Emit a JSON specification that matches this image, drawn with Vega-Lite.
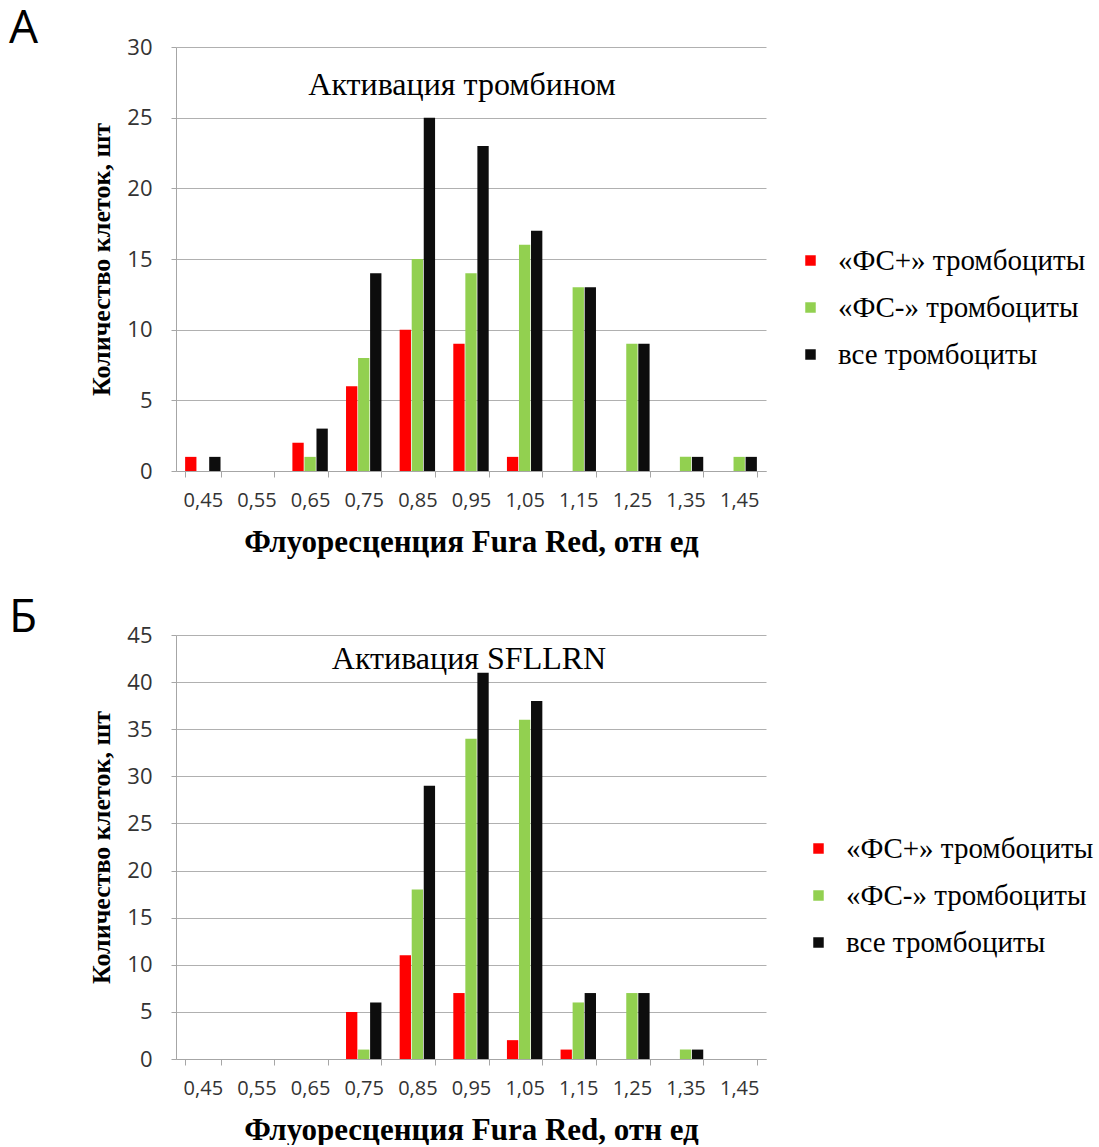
{
  "$schema": "https://vega.github.io/schema/vega-lite/v6.json",
  "padding": {"left": 9, "top": 6, "right": 5, "bottom": 0},
  "background": "white",
  "spacing": 38,
  "resolve": {"scale": {"color": "independent"}, "legend": {"color": "independent"}},
  "config": {
    "view": {"stroke": null},
    "axis": {
      "gridColor": "#b0b0b0",
      "domainColor": "#a6a6a6",
      "tickColor": "#a6a6a6",
      "labelFont": "Open Sans",
      "labelColor": "#333333",
      "titleFont": "Liberation Serif",
      "titleFontWeight": "bold",
      "titleColor": "#000000"
    },
    "legend": {
      "orient": "none",
      "legendY": 199,
      "title": null,
      "symbolType": "square",
      "symbolSize": 110,
      "symbolStrokeWidth": 0,
      "labelFont": "Liberation Serif",
      "labelFontSize": 29,
      "labelColor": "#000000",
      "labelOffset": 13,
      "rowPadding": 17,
      "labelLimit": 400
    },
    "title": {
      "font": "Open Sans",
      "fontSize": 46,
      "fontWeight": "normal",
      "anchor": "start",
      "frame": "group",
      "color": "#000000"
    }
  },
  "datasets": {
    "a": [
      {"x": "0,45", "s": "«ФС+» тромбоциты", "n": 1}, {"x": "0,45", "s": "«ФС-» тромбоциты", "n": 0}, {"x": "0,45", "s": "все тромбоциты", "n": 1},
      {"x": "0,55", "s": "«ФС+» тромбоциты", "n": 0}, {"x": "0,55", "s": "«ФС-» тромбоциты", "n": 0}, {"x": "0,55", "s": "все тромбоциты", "n": 0},
      {"x": "0,65", "s": "«ФС+» тромбоциты", "n": 2}, {"x": "0,65", "s": "«ФС-» тромбоциты", "n": 1}, {"x": "0,65", "s": "все тромбоциты", "n": 3},
      {"x": "0,75", "s": "«ФС+» тромбоциты", "n": 6}, {"x": "0,75", "s": "«ФС-» тромбоциты", "n": 8}, {"x": "0,75", "s": "все тромбоциты", "n": 14},
      {"x": "0,85", "s": "«ФС+» тромбоциты", "n": 10}, {"x": "0,85", "s": "«ФС-» тромбоциты", "n": 15}, {"x": "0,85", "s": "все тромбоциты", "n": 25},
      {"x": "0,95", "s": "«ФС+» тромбоциты", "n": 9}, {"x": "0,95", "s": "«ФС-» тромбоциты", "n": 14}, {"x": "0,95", "s": "все тромбоциты", "n": 23},
      {"x": "1,05", "s": "«ФС+» тромбоциты", "n": 1}, {"x": "1,05", "s": "«ФС-» тромбоциты", "n": 16}, {"x": "1,05", "s": "все тромбоциты", "n": 17},
      {"x": "1,15", "s": "«ФС+» тромбоциты", "n": 0}, {"x": "1,15", "s": "«ФС-» тромбоциты", "n": 13}, {"x": "1,15", "s": "все тромбоциты", "n": 13},
      {"x": "1,25", "s": "«ФС+» тромбоциты", "n": 0}, {"x": "1,25", "s": "«ФС-» тромбоциты", "n": 9}, {"x": "1,25", "s": "все тромбоциты", "n": 9},
      {"x": "1,35", "s": "«ФС+» тромбоциты", "n": 0}, {"x": "1,35", "s": "«ФС-» тромбоциты", "n": 1}, {"x": "1,35", "s": "все тромбоциты", "n": 1},
      {"x": "1,45", "s": "«ФС+» тромбоциты", "n": 0}, {"x": "1,45", "s": "«ФС-» тромбоциты", "n": 1}, {"x": "1,45", "s": "все тромбоциты", "n": 1}
    ],
    "b": [
      {"x": "0,45", "s": "«ФС+» тромбоциты", "n": 0}, {"x": "0,45", "s": "«ФС-» тромбоциты", "n": 0}, {"x": "0,45", "s": "все тромбоциты", "n": 0},
      {"x": "0,55", "s": "«ФС+» тромбоциты", "n": 0}, {"x": "0,55", "s": "«ФС-» тромбоциты", "n": 0}, {"x": "0,55", "s": "все тромбоциты", "n": 0},
      {"x": "0,65", "s": "«ФС+» тромбоциты", "n": 0}, {"x": "0,65", "s": "«ФС-» тромбоциты", "n": 0}, {"x": "0,65", "s": "все тромбоциты", "n": 0},
      {"x": "0,75", "s": "«ФС+» тромбоциты", "n": 5}, {"x": "0,75", "s": "«ФС-» тромбоциты", "n": 1}, {"x": "0,75", "s": "все тромбоциты", "n": 6},
      {"x": "0,85", "s": "«ФС+» тромбоциты", "n": 11}, {"x": "0,85", "s": "«ФС-» тромбоциты", "n": 18}, {"x": "0,85", "s": "все тромбоциты", "n": 29},
      {"x": "0,95", "s": "«ФС+» тромбоциты", "n": 7}, {"x": "0,95", "s": "«ФС-» тромбоциты", "n": 34}, {"x": "0,95", "s": "все тромбоциты", "n": 41},
      {"x": "1,05", "s": "«ФС+» тромбоциты", "n": 2}, {"x": "1,05", "s": "«ФС-» тромбоциты", "n": 36}, {"x": "1,05", "s": "все тромбоциты", "n": 38},
      {"x": "1,15", "s": "«ФС+» тромбоциты", "n": 1}, {"x": "1,15", "s": "«ФС-» тромбоциты", "n": 6}, {"x": "1,15", "s": "все тромбоциты", "n": 7},
      {"x": "1,25", "s": "«ФС+» тромбоциты", "n": 0}, {"x": "1,25", "s": "«ФС-» тромбоциты", "n": 7}, {"x": "1,25", "s": "все тромбоциты", "n": 7},
      {"x": "1,35", "s": "«ФС+» тромбоциты", "n": 0}, {"x": "1,35", "s": "«ФС-» тромбоциты", "n": 1}, {"x": "1,35", "s": "все тромбоциты", "n": 1},
      {"x": "1,45", "s": "«ФС+» тромбоциты", "n": 0}, {"x": "1,45", "s": "«ФС-» тромбоциты", "n": 0}, {"x": "1,45", "s": "все тромбоциты", "n": 0}
    ]
  },
  "vconcat": [
    {
      "title": {"text": "А", "dx": -167, "offset": -17},
      "width": 590,
      "height": 424,
      "data": {"name": "a"},
      "layer": [
        {
          "mark": {"type": "bar"},
          "encoding": {
            "x": {
              "field": "x", "type": "nominal",
              "scale": {"paddingInner": 0.34, "paddingOuter": 0.17},
              "axis": {"title": "Флуоресценция Fura Red, отн ед", "titleFontSize": 31, "titlePadding": 17, "labelAngle": 0, "labelFontSize": 20, "tickBand": "extent", "tickSize": 6, "labelPadding": 13}
            },
            "xOffset": {"field": "s", "type": "nominal", "sort": ["«ФС+» тромбоциты", "«ФС-» тромбоциты", "все тромбоциты"], "scale": {"paddingInner": 0.06}},
            "y": {
              "field": "n", "type": "quantitative",
              "scale": {"domain": [0, 30]},
              "axis": {"title": "Количество клеток, шт", "titleFontSize": 26, "titlePadding": 12, "labelFontSize": 22, "values": [0, 5, 10, 15, 20, 25, 30], "tickSize": 5, "labelPadding": 19}
            },
            "color": {
              "field": "s", "type": "nominal",
              "scale": {"domain": ["«ФС+» тромбоциты", "«ФС-» тромбоциты", "все тромбоциты"], "range": ["#ff0000", "#92d050", "#0d0d0d"]},
              "legend": {"legendX": 620}
            }
          }
        },
        {
          "data": {"values": [{}]},
          "mark": {"type": "text", "text": "Активация тромбином", "font": "Liberation Serif", "fontSize": 32, "color": "#000000", "dx": -9},
          "encoding": {"x": {"datum": "0,95"}, "y": {"datum": 27.3}}
        }
      ]
    },
    {
      "title": {"text": "Б", "dx": -167, "offset": -18},
      "width": 590,
      "height": 424,
      "data": {"name": "b"},
      "layer": [
        {
          "mark": {"type": "bar"},
          "encoding": {
            "x": {
              "field": "x", "type": "nominal",
              "scale": {"paddingInner": 0.34, "paddingOuter": 0.17},
              "axis": {"title": "Флуоресценция Fura Red, отн ед", "titleFontSize": 31, "titlePadding": 17, "labelAngle": 0, "labelFontSize": 20, "tickBand": "extent", "tickSize": 6, "labelPadding": 13}
            },
            "xOffset": {"field": "s", "type": "nominal", "sort": ["«ФС+» тромбоциты", "«ФС-» тромбоциты", "все тромбоциты"], "scale": {"paddingInner": 0.06}},
            "y": {
              "field": "n", "type": "quantitative",
              "scale": {"domain": [0, 45]},
              "axis": {"title": "Количество клеток, шт", "titleFontSize": 26, "titlePadding": 12, "labelFontSize": 22, "values": [0, 5, 10, 15, 20, 25, 30, 35, 40, 45], "tickSize": 5, "labelPadding": 19}
            },
            "color": {
              "field": "s", "type": "nominal",
              "scale": {"domain": ["«ФС+» тромбоциты", "«ФС-» тромбоциты", "все тромбоциты"], "range": ["#ff0000", "#92d050", "#0d0d0d"]},
              "legend": {"legendX": 628}
            }
          }
        },
        {
          "data": {"values": [{}]},
          "mark": {"type": "text", "text": "Активация SFLLRN", "font": "Liberation Serif", "fontSize": 32, "color": "#000000", "dx": -2},
          "encoding": {"x": {"datum": "0,95"}, "y": {"datum": 42.4}}
        }
      ]
    }
  ]
}
